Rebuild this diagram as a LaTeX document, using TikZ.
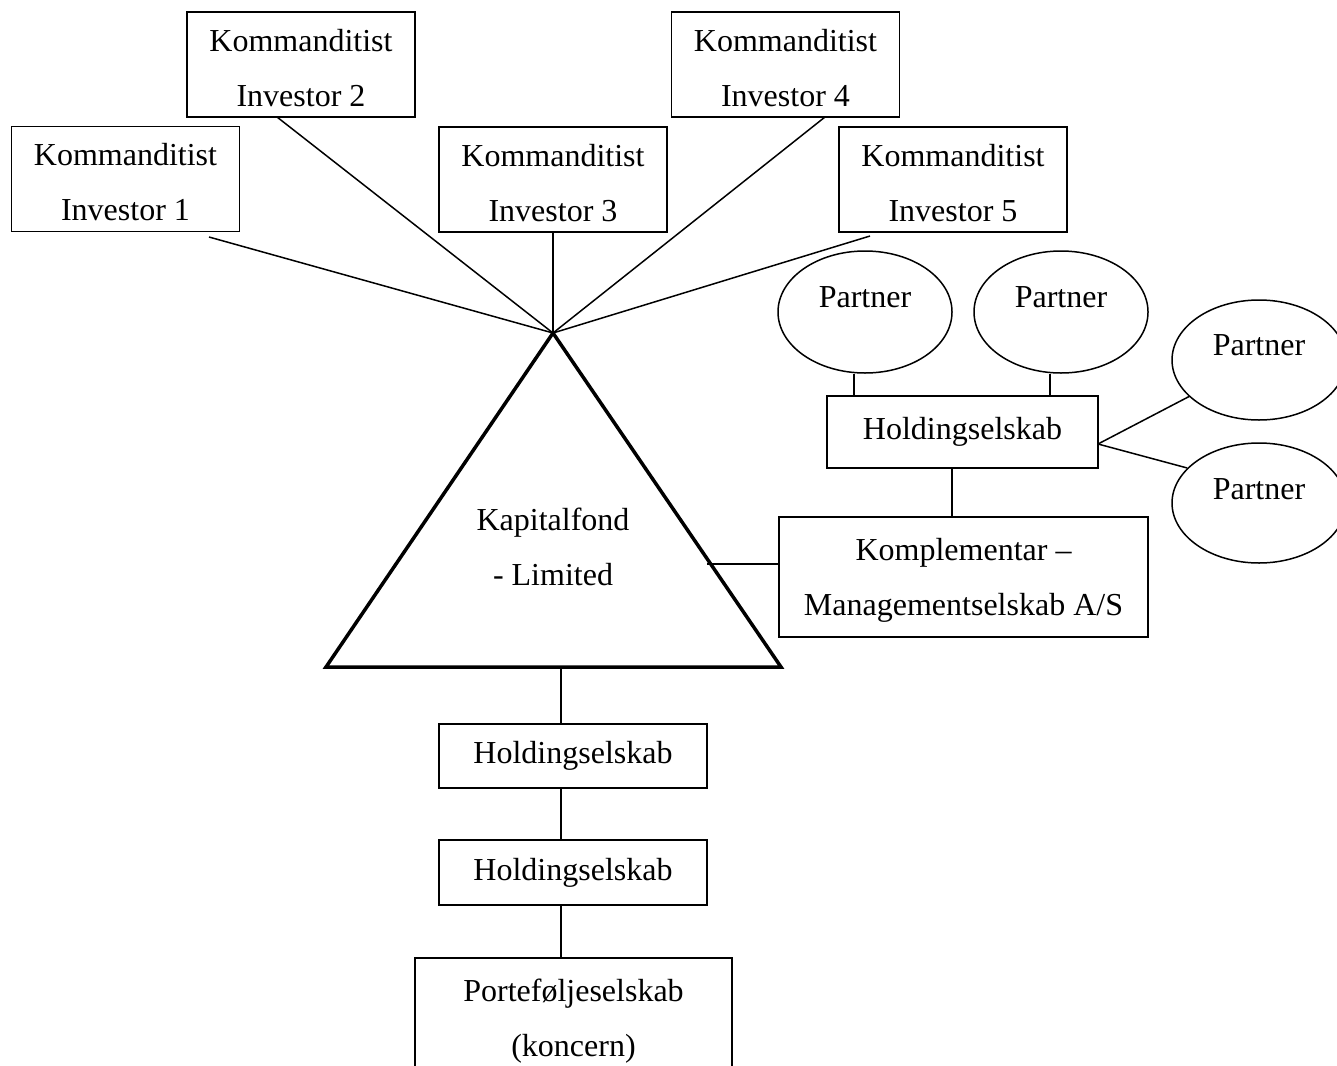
\documentclass[tikz,border=0pt]{standalone}
\usepackage{fontspec}
\setmainfont{Liberation Serif}
\usetikzlibrary{shapes.geometric}
\newcommand\diafs{\fontsize{32}{55}\selectfont}
\newcommand\toppad{\rule{0pt}{29pt}}
\tikzset{
  box/.style={draw, line width=1.5pt, inner sep=0pt, align=center, font=\diafs},
  ell/.style={draw, ellipse, line width=1.5pt, inner sep=0pt, minimum width=174pt},
  lbl/.style={inner sep=0pt, align=center, font=\diafs},
  conn/.style={line width=1.5pt},
  tri/.style={line width=3.5pt, line join=miter}
}
\begin{document}
\begin{tikzpicture}[x=1pt, y=-1pt]
\useasboundingbox (0,0) rectangle (1337,1065);
% investors
\node[box, minimum width=228pt, minimum height=105pt] (inv1) at (125.5,179) {\toppad Kommanditist\\Investor 1};
\node[box, minimum width=228pt, minimum height=105pt] (inv2) at (301,64.5) {\toppad Kommanditist\\Investor 2};
\node[box, minimum width=228pt, minimum height=105pt] (inv3) at (553,179.5) {\toppad Kommanditist\\Investor 3};
\node[box, minimum width=228pt, minimum height=105pt] (inv4) at (785.5,64.5) {\toppad Kommanditist\\Investor 4};
\node[box, minimum width=228pt, minimum height=105pt] (inv5) at (953,179.5) {\toppad Kommanditist\\Investor 5};
% triangle
\coordinate (apex) at (553,333);
\coordinate (tl) at (326,667);
\coordinate (tr) at (781,667);
\draw[tri] (apex) -- (tl) -- (tr) -- cycle;
\node[lbl] (kap) at (553,547) {Kapitalfond\\- Limited};
% investor connectors
\coordinate (s1) at (209,237);
\coordinate (s2) at (277,117);
\coordinate (s4) at (825,117);
\coordinate (s5) at (870,236);
\draw[conn] (s1) -- (apex);
\draw[conn] (s2) -- (apex);
\draw[conn] (inv3.south) -- (apex);
\draw[conn] (s4) -- (apex);
\draw[conn] (s5) -- (apex);
% right cluster
\node[ell, minimum height=122pt] (p1) at (865,312) {};
\node[ell, minimum height=122pt] (p2) at (1061,312) {};
\node[ell, minimum height=120pt] (p3) at (1259,360) {};
\node[ell, minimum height=120pt] (p4) at (1259,503) {};
\node[lbl] (p1t) at (865,297) {Partner};
\node[lbl] (p2t) at (1061,297) {Partner};
\node[lbl] (p3t) at (1259,345) {Partner};
\node[lbl] (p4t) at (1259,489) {Partner};
\node[box, minimum width=271pt, minimum height=72pt] (hr) at (962.5,432) {Holdingselskab};
\node[box, minimum width=369pt, minimum height=120pt] (komp) at (963.5,577) {\toppad Komplementar --\\Managementselskab A/S};
\draw[conn] ([xshift=-11pt]p1.south) -- ([xshift=-11pt]p1.south |- hr.north);
\draw[conn] ([xshift=-11pt]p2.south) -- ([xshift=-11pt]p2.south |- hr.north);
\coordinate (hre) at (1098,444);
\draw[conn] (hre) -- (p3);
\draw[conn] (hre) -- (p4.154);
\draw[conn] (hr.south -| 952,0) -- (komp.north -| 952,0);
\coordinate (tk) at (707,564);
\draw[conn] (tk) -- (tk -| komp.west);
% bottom chain
\node[box, minimum width=268pt, minimum height=64pt] (hb1) at (573,756) {Holdingselskab};
\node[box, minimum width=268pt, minimum height=65pt] (hb2) at (573,872.5) {Holdingselskab};
\node[box, minimum width=317pt, minimum height=120pt] (pf) at (573.5,1018) {\toppad Porteføljeselskab\\(koncern)};
\coordinate (tb) at (561,667);
\draw[conn] (tb) -- (tb |- hb1.north);
\draw[conn] (tb |- hb1.south) -- (tb |- hb2.north);
\draw[conn] (tb |- hb2.south) -- (tb |- pf.north);
\end{tikzpicture}
\end{document}
